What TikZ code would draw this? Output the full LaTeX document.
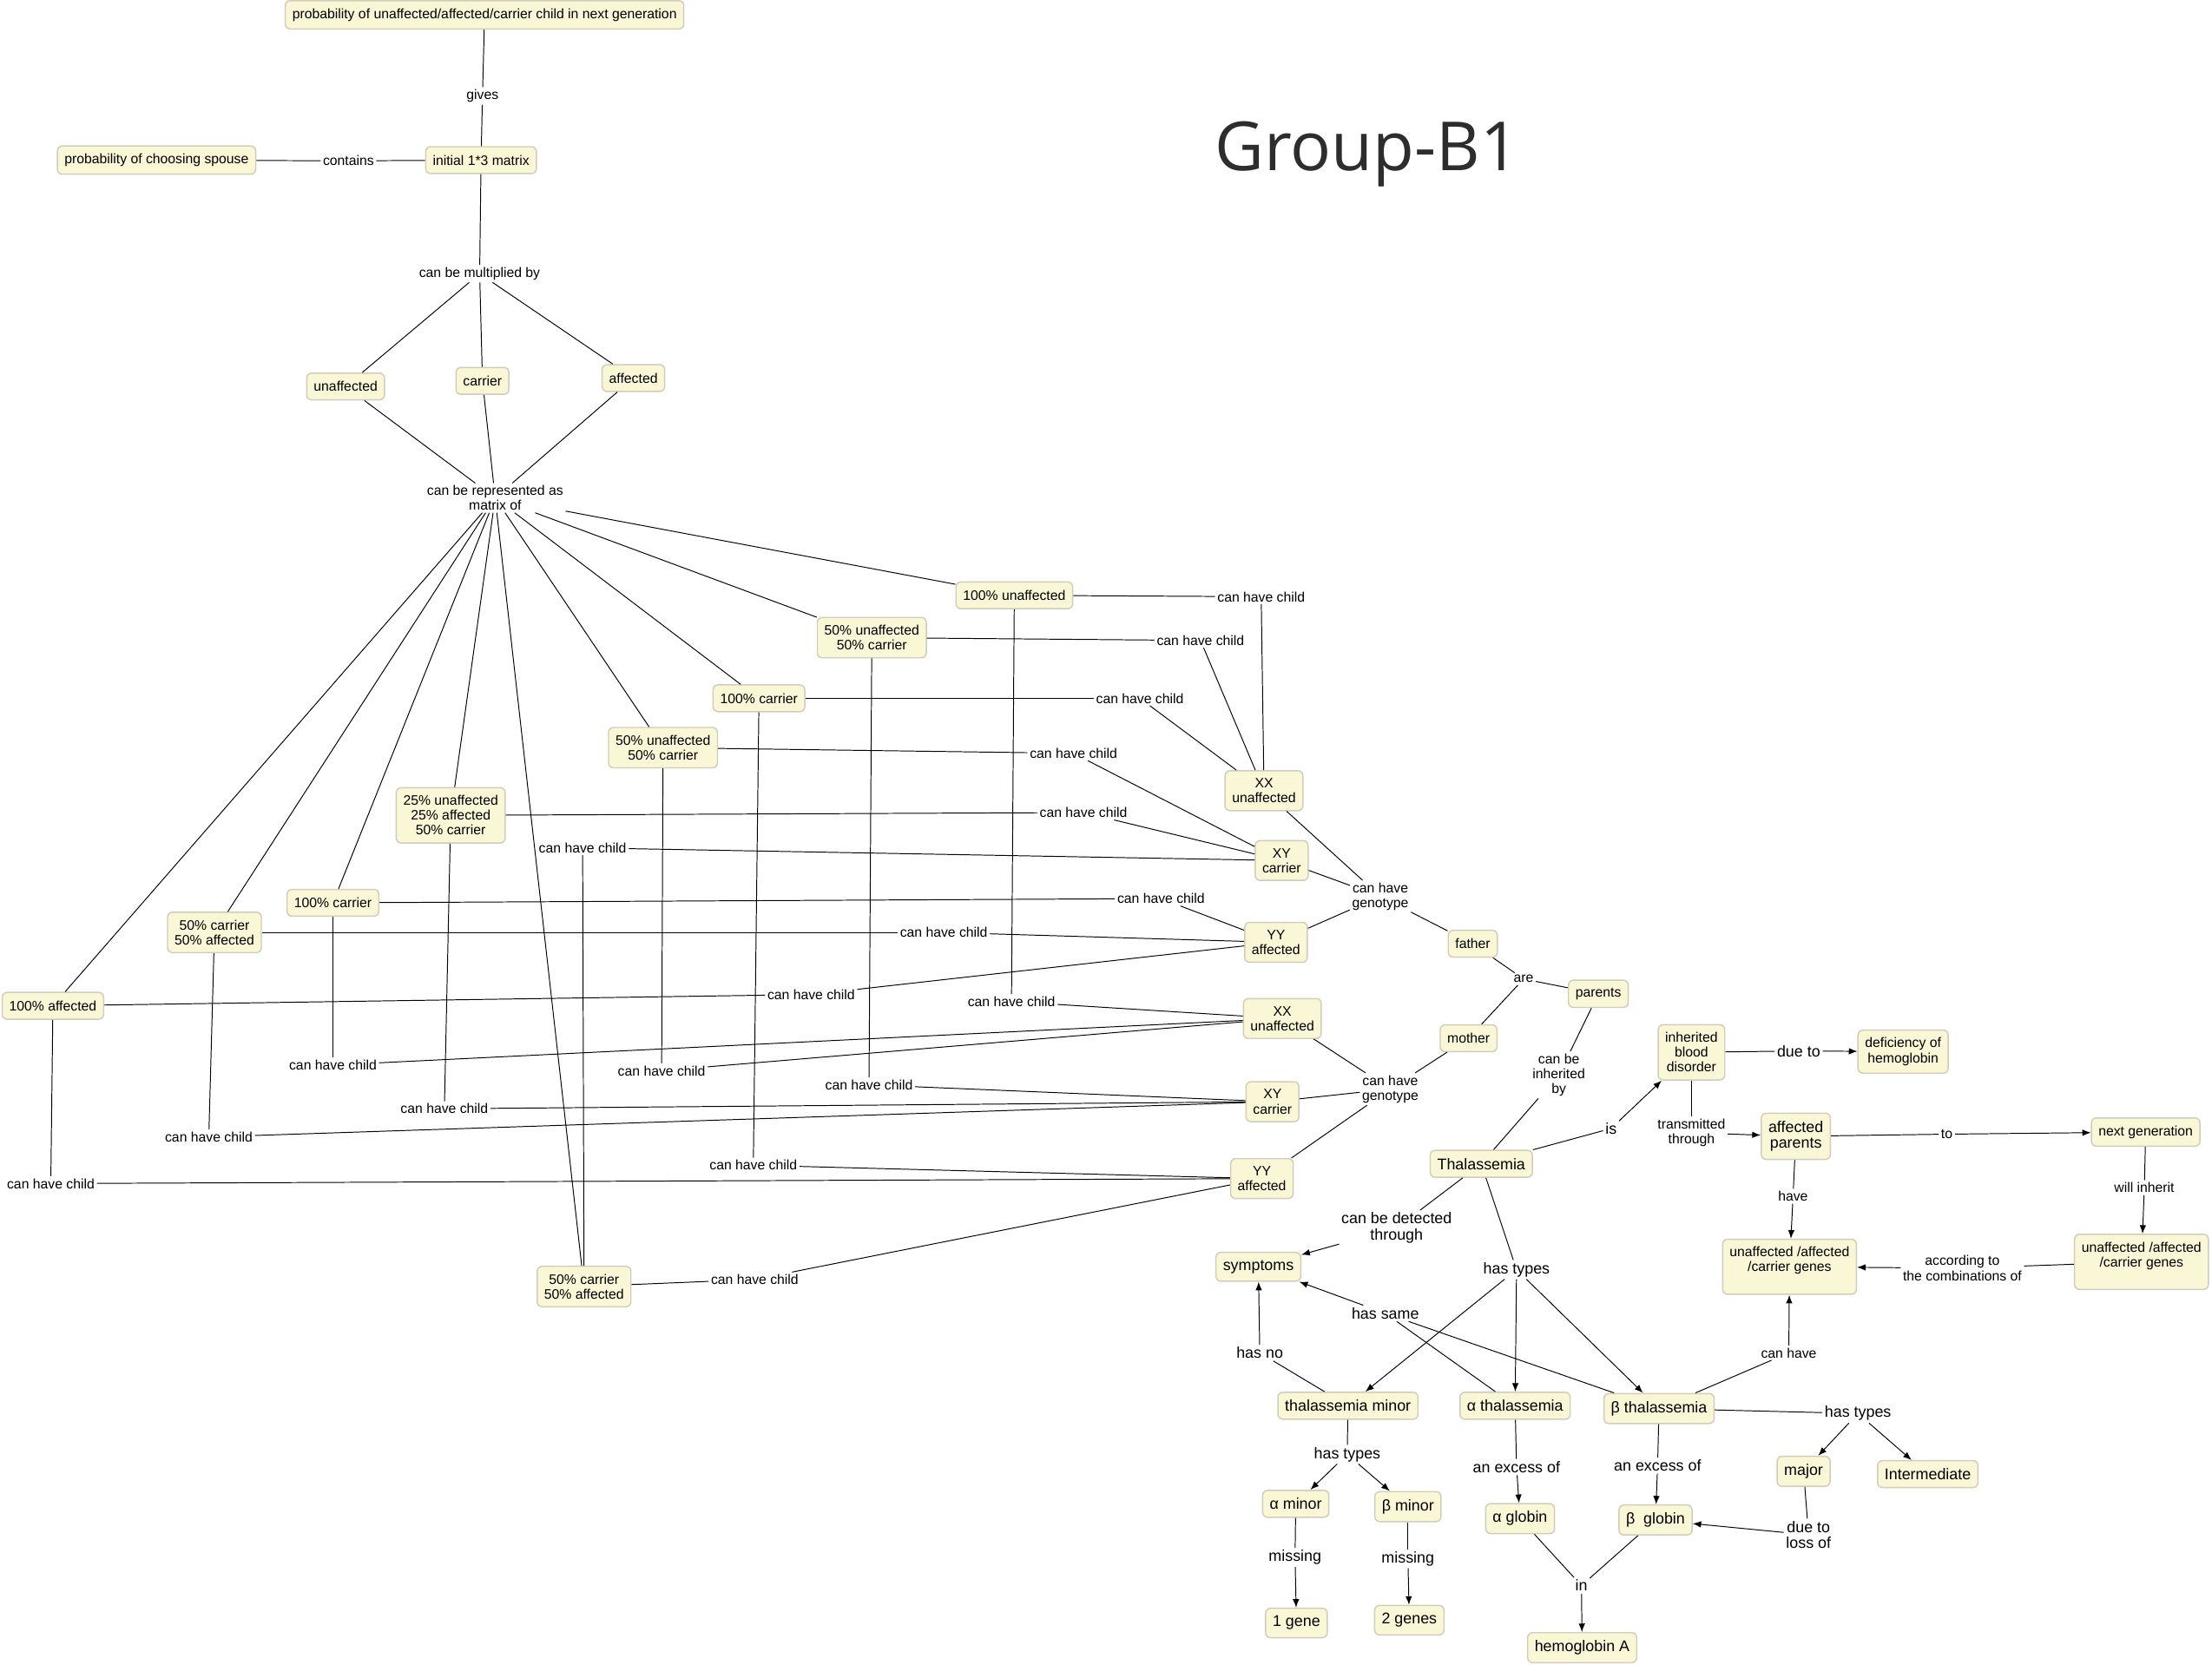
\documentclass[tikz,border=0pt]{standalone}
\usepackage{fontspec}
\setmainfont{Liberation Sans}
\newfontfamily\titlefont{Open Sans}
\usetikzlibrary{arrows.meta}
\definecolor{cfill}{RGB}{250,247,214}
\definecolor{cdraw}{RGB}{208,205,186}
\definecolor{ctitle}{RGB}{45,45,45}
\newcommand\fsml{\fontsize{9.7}{10.5}\selectfont}
\newcommand\fbig{\fontsize{11}{11.5}\selectfont}
\tikzset{
  concept/.style={draw=cdraw, line width=0.9pt, fill=cfill, rounded corners=3.5pt,
    inner xsep=5pt, inner ysep=5.5pt, minimum height=19pt, align=center, font=\fsml},
  bigc/.style={concept, font=\fbig},
  lbl/.style={inner sep=1.5pt, align=center, font=\fsml},
  lblb/.style={lbl, font=\fbig},
  conn/.style={line width=0.6pt, draw=black},
  arr/.style={conn, -{Latex[length=6pt,width=4.6pt]}},
}
\begin{document}
\begin{tikzpicture}[x=1pt,y=-1pt]
\useasboundingbox (0,0) rectangle (1568,1180);
\fill[white] (0,0) rectangle (1568,1180);

% title
\node[font=\titlefont\fontsize{48}{52}\selectfont, text=ctitle, anchor=base, inner sep=0pt] (title) at (969,121) {Group-B1};

% ---------- top part ----------
\node[concept] (p1) at (343.5,10.5) {probability of unaffected/affected/carrier child in next generation};
\node[lbl] (gives) at (342,68) {gives};
\node[concept] (initm) at (341,113.5) {initial 1*3 matrix};
\node[lbl] (contains) at (247,114) {contains};
\node[concept] (spouse) at (111,113.5) {probability of choosing spouse};
\node[lbl] (mult) at (340,194) {can be multiplied by};
\node[concept] (unaff) at (245,274) {unaffected};
\node[concept] (carr) at (342,270) {carrier};
\node[concept] (aff) at (449,268) {affected};
\node[lbl] (repr) at (351,353) {can be represented as\\matrix of};

% result nodes
\node[concept] (r1) at (719,422) {100\% unaffected};
\node[concept] (r2) at (618,452) {50\% unaffected\\50\% carrier};
\node[concept] (r3) at (538,495) {100\% carrier};
\node[concept] (r4) at (470,530) {50\% unaffected\\50\% carrier};
\node[concept] (r5) at (319.5,578) {25\% unaffected\\25\% affected\\50\% carrier};
\node[concept] (r6) at (236,640) {100\% carrier};
\node[concept] (r7) at (152,661) {50\% carrier\\50\% affected};
\node[concept] (r8) at (37.5,713) {100\% affected};
\node[concept] (r9) at (414,912) {50\% carrier\\50\% affected};

% genotypes
\node[concept] (fxx) at (896,560.5) {XX\\unaffected};
\node[concept] (fxy) at (908.5,610) {XY\\carrier};
\node[concept] (fyy) at (904.5,668) {YY\\affected};
\node[lbl] (fgen) at (978.5,635.5) {can have\\genotype};
\node[concept] (father) at (1044,669) {father};
\node[concept] (mxx) at (909,722) {XX\\unaffected};
\node[concept] (mxy) at (902,781) {XY\\carrier};
\node[concept] (myy) at (894.5,835.5) {YY\\affected};
\node[lbl] (mgen) at (985.5,772) {can have\\genotype};
\node[concept] (mother) at (1041,736) {mother};
\node[lbl] (are) at (1080,694) {are};
\node[concept] (parents) at (1133,704.5) {parents};

% can have child labels
\node[lbl] (l1) at (894,423) {can have child};
\node[lbl] (l2) at (851,454) {can have child};
\node[lbl] (l3) at (808,495) {can have child};
\node[lbl] (l4) at (761,534) {can have child};
\node[lbl] (l5) at (768,576) {can have child};
\node[lbl] (l6) at (413,601) {can have child};
\node[lbl] (l7) at (823,637) {can have child};
\node[lbl] (l8) at (669,661) {can have child};
\node[lbl] (l9) at (575,705) {can have child};
\node[lbl] (m1) at (717,710) {can have child};
\node[lbl] (m2) at (469,759) {can have child};
\node[lbl] (m3) at (236,755) {can have child};
\node[lbl] (m4) at (616,769) {can have child};
\node[lbl] (m5) at (315,786) {can have child};
\node[lbl] (m6) at (148,806) {can have child};
\node[lbl] (m7) at (534,826) {can have child};
\node[lbl] (m8) at (36,839) {can have child};
\node[lbl] (m9) at (535,907) {can have child};

% ---------- thalassemia part ----------
\node[bigc] (thal) at (1050,825) {Thalassemia};
\node[lbl] (inhby) at (1105,762) {can be\\inherited\\by};
\node[lblb] (islab) at (1142,800) {is};
\node[concept] (ibd) at (1199,746) {inherited\\blood\\disorder};
\node[lblb] (dueto) at (1275,745) {due to};
\node[concept] (defic) at (1349,745.5) {deficiency of\\hemoglobin};
\node[lbl] (trans) at (1199,803) {transmitted\\through};
\node[bigc] (affp) at (1273,805.5) {affected\\parents};
\node[lbl] (tolab) at (1380,804) {to};
\node[concept] (nextg) at (1521,802.5) {next generation};
\node[lbl] (willinh) at (1520,842) {will inherit};
\node[concept] (genesR) at (1518,894.5) {unaffected /affected\\/carrier genes\\~};
\node[lbl] (accord) at (1391,899) {according to\\the combinations of};
\node[concept] (genesL) at (1268.5,898) {unaffected /affected\\/carrier genes\\~};
\node[lbl] (have) at (1271,848) {have};
\node[lbl] (canhave) at (1268,959) {can have};
\node[lblb] (detect) at (990,870.5) {can be detected\\through};
\node[bigc] (symp) at (892,898) {symptoms};
\node[lblb] (hastypes) at (1075,900) {has types};
\node[bigc] (minor) at (955.5,996.5) {thalassemia minor};
\node[bigc] (athal) at (1074,996.5) {α thalassemia};
\node[bigc] (bthal) at (1176,998.5) {β thalassemia};
\node[lblb] (hassame) at (982,931) {has same};
\node[lblb] (hasno) at (893,959) {has no};
\node[lblb] (mtypes) at (955,1031) {has types};
\node[bigc] (amin) at (918.5,1066) {α minor};
\node[bigc] (bmin) at (998,1068) {β minor};
\node[lblb] (miss1) at (918,1104) {missing};
\node[lblb] (miss2) at (998,1105) {missing};
\node[bigc] (gene1) at (919,1150.5) {1 gene};
\node[bigc] (gene2) at (999,1148.5) {2 genes};
\node[lblb] (exa) at (1075,1040) {an excess of};
\node[lblb] (exb) at (1175,1039) {an excess of};
\node[bigc] (aglob) at (1077.5,1076.5) {α globin};
\node[bigc] (bglob) at (1173.5,1077.5) {β~~globin};
\node[lblb] (inlab) at (1121,1124) {in};
\node[bigc] (hemA) at (1121.5,1168) {hemoglobin A};
\node[lblb] (btypes) at (1317,1002) {has types};
\node[bigc] (major) at (1278.5,1043) {major};
\node[bigc] (inter) at (1366.5,1045) {Intermediate};
\node[lblb] (loss) at (1282,1088) {due to\\loss of};

% ---------- connectors: top ----------
\draw[conn] (p1) -- (gives);
\draw[conn] (gives) -- (initm);
\draw[conn] (spouse) -- (contains);
\draw[conn] (contains) -- (initm);
\draw[conn] (initm) -- (mult);
\foreach \n in {unaff,carr,aff} {
  \draw[conn] (mult) -- (\n);
  \draw[conn] (\n) -- (repr);
}
\foreach \n in {r1,r2,r3,r4,r5,r6,r7,r8,r9} {
  \draw[conn] (repr) -- (\n);
}

% can have child links
\draw[conn] (r1) -- (l1);  \draw[conn] (l1) -- (fxx);
\draw[conn] (r2) -- (l2);  \draw[conn] (l2) -- (fxx);
\draw[conn] (r3) -- (l3);  \draw[conn] (l3) -- (fxx);
\draw[conn] (r4) -- (l4);  \draw[conn] (l4) -- (fxy);
\draw[conn] (r5) -- (l5);  \draw[conn] (l5) -- (fxy);
\draw[conn] (r9) -- (l6);  \draw[conn] (l6) -- (fxy);
\draw[conn] (r6) -- (l7);  \draw[conn] (l7) -- (fyy);
\draw[conn] (r7) -- (l8);  \draw[conn] (l8) -- (fyy);
\draw[conn] (r8) -- (l9);  \draw[conn] (l9) -- (fyy);
\draw[conn] (r1) -- (m1);  \draw[conn] (m1) -- (mxx);
\draw[conn] (r4) -- (m2);  \draw[conn] (m2) -- (mxx);
\draw[conn] (r6) -- (m3);  \draw[conn] (m3) -- (mxx);
\draw[conn] (r2) -- (m4);  \draw[conn] (m4) -- (mxy);
\draw[conn] (r5) -- (m5);  \draw[conn] (m5) -- (mxy);
\draw[conn] (r7) -- (m6);  \draw[conn] (m6) -- (mxy);
\draw[conn] (r3) -- (m7);  \draw[conn] (m7) -- (myy);
\draw[conn] (r8) -- (m8);  \draw[conn] (m8) -- (myy);
\draw[conn] (r9) -- (m9);  \draw[conn] (m9) -- (myy);

% genotype links
\foreach \n in {fxx,fxy,fyy} { \draw[conn] (\n) -- (fgen); }
\draw[conn] (fgen) -- (father);
\foreach \n in {mxx,mxy,myy} { \draw[conn] (\n) -- (mgen); }
\draw[conn] (mgen) -- (mother);
\draw[conn] (father) -- (are);
\draw[conn] (mother) -- (are);
\draw[conn] (are) -- (parents);
\draw[conn] (thal) -- (inhby);
\draw[conn] (inhby) -- (parents);

% ---------- connectors: thalassemia ----------
\draw[conn] (thal) -- (islab);    \draw[arr] (islab) -- (ibd);
\draw[conn] (ibd) -- (dueto);     \draw[arr] (dueto) -- (defic);
\draw[conn] (ibd) -- (trans);     \draw[arr] (trans) -- (affp);
\draw[conn] (affp) -- (tolab);    \draw[arr] (tolab) -- (nextg);
\draw[conn] (nextg) -- (willinh); \draw[arr] (willinh) -- (genesR);
\draw[conn] (genesR) -- (accord); \draw[arr] (accord) -- (genesL);
\draw[conn] (affp) -- (have);     \draw[arr] (have) -- (genesL);
\draw[conn] (bthal) -- (canhave); \draw[arr] (canhave) -- (genesL);
\draw[conn] (thal) -- (detect);   \draw[arr] (detect) -- (symp);
\draw[conn] (thal) -- (hastypes);
\draw[arr] (hastypes) -- (minor);
\draw[arr] (hastypes) -- (athal);
\draw[arr] (hastypes) -- (bthal);
\draw[conn] (athal) -- (hassame);
\draw[conn] (bthal) -- (hassame);
\draw[arr] (hassame) -- (symp);
\draw[conn] (minor) -- (hasno);   \draw[arr] (hasno) -- (symp);
\draw[conn] (minor) -- (mtypes);
\draw[arr] (mtypes) -- (amin);
\draw[arr] (mtypes) -- (bmin);
\draw[conn] (amin) -- (miss1);    \draw[arr] (miss1) -- (gene1);
\draw[conn] (bmin) -- (miss2);    \draw[arr] (miss2) -- (gene2);
\draw[conn] (athal) -- (exa);     \draw[arr] (exa) -- (aglob);
\draw[conn] (bthal) -- (exb);     \draw[arr] (exb) -- (bglob);
\draw[conn] (aglob) -- (inlab);
\draw[conn] (bglob) -- (inlab);
\draw[arr] (inlab) -- (hemA);
\draw[conn] (bthal) -- (btypes);
\draw[arr] (btypes) -- (major);
\draw[arr] (btypes) -- (inter);
\draw[conn] (major) -- (loss);    \draw[arr] (loss) -- (bglob);
\end{tikzpicture}
\end{document}
